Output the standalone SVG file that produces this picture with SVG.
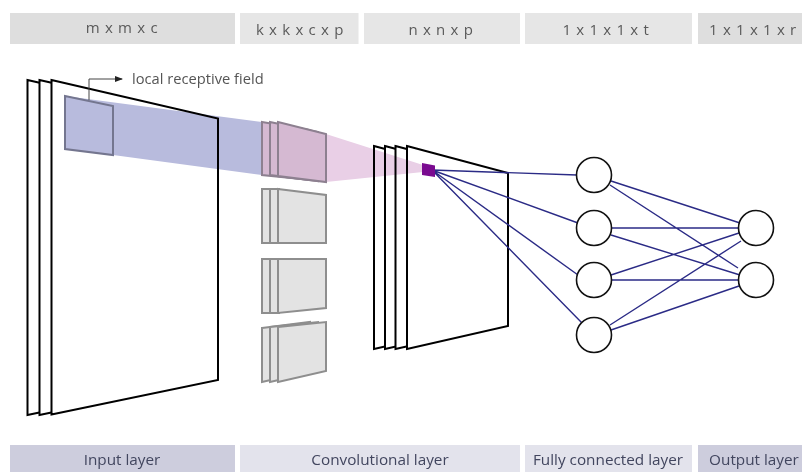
<svg xmlns="http://www.w3.org/2000/svg" width="802" height="472" viewBox="0 0 802 472">
<style>
.hd{font:15px "Open Sans","Liberation Sans",sans-serif;fill:#5a5a5a;text-anchor:middle;letter-spacing:.7px}
.ft{font:15.300px "Open Sans","Liberation Sans",sans-serif;fill:#42465f;text-anchor:middle}
.pl{fill:#fff;stroke:#000;stroke-width:2;stroke-linejoin:miter}
.fg{fill:#e3e3e3;stroke:#8e8e8e;stroke-width:2}
.fp{fill:#d5b9d2;stroke:#8d8090;stroke-width:2}
.n{fill:#fff;stroke:#111;stroke-width:1.6}
.c{stroke:#2b2b86;stroke-width:1.4;fill:none}
</style>
<defs><marker id="ah" markerWidth="8" markerHeight="6" refX="7" refY="3" orient="auto" markerUnits="userSpaceOnUse"><path d="M0 0L8 3L0 6Z" fill="#222"/></marker></defs>
<rect width="802" height="472" fill="#fff"/>
<g id="headers">
<rect x="10" y="13" width="225" height="31" fill="#dedede"/><text class="hd" x="122" y="33">m x m x c</text>
<rect x="240" y="13" width="118.500" height="31" fill="#e6e6e6"/><text class="hd" x="300" y="34.500">k x k x c x p</text>
<rect x="364" y="13" width="156" height="31" fill="#e6e6e6"/><text class="hd" x="441" y="34.500">n x n x p</text>
<rect x="525" y="13" width="167" height="31" fill="#e6e6e6"/><text class="hd" x="606" y="34.500">1 x 1 x 1 x t</text>
<rect x="698" y="13" width="104" height="31" fill="#dedede"/><text class="hd" x="753" y="34.500">1 x 1 x 1 x r</text>
</g>
<g id="footers">
<rect x="10" y="445" width="225" height="27" fill="#cdcddd"/><text class="ft" x="122" y="465">Input layer</text>
<rect x="240" y="445" width="118.500" height="27" fill="#e3e3ec"/>
<rect x="358" y="445" width="162" height="27" fill="#e3e3ec"/><text class="ft" x="380" y="465">Convolutional layer</text>
<rect x="525" y="445" width="167" height="27" fill="#e3e3ec"/><text class="ft" x="608" y="465">Fully connected layer</text>
<rect x="698" y="445" width="104" height="27" fill="#cdcddd"/><text class="ft" x="754" y="465">Output layer</text>
</g>
<g id="input-layer">
<path class="pl" d="M27.500 80L194 118V380L27.500 415Z"/>
<path class="pl" d="M39.500 80L206 118V380L39.500 415Z"/>
<path class="pl" d="M51.500 80L218 118.500V380L51.500 414.500Z"/>
</g>
<g id="conv-output-layer">
<path class="pl" d="M374 146L475 173V326L374 349Z"/>
<path class="pl" d="M385 146L486 173V326L385 349Z"/>
<path class="pl" d="M395.500 146L497 173V326L395.500 349Z"/>
<path class="pl" d="M407 146L508 173V326L407 349Z"/>
</g>
<g id="beam">
<path d="M65 96L262 122V175L113 155Z" fill="#b8bbdd" style="mix-blend-mode:multiply"/>
<path d="M326 134L423 165V172L326 182Z" fill="#e9cfe6" style="mix-blend-mode:multiply"/>
</g>
<g id="local-receptive-field">
<path d="M65 96L113 106V155L65 149Z" fill="#b8bbdd" stroke="#74768f" stroke-width="2"/>
<path d="M89 100V79H122" fill="none" stroke="#444" stroke-width="1" marker-end="url(#ah)"/>
<text x="132" y="84" font-family="'Open Sans','Liberation Sans',sans-serif" font-size="14.700" fill="#555">local receptive field</text>
</g>
<g id="filters-1">
<path class="fp" d="M262 122L310 130V180L262 175Z"/>
<path class="fp" d="M270 122L318 132V181L270 175Z"/>
<path class="fp" d="M278 122L326 134V182L278 176Z"/>
</g>
<g id="filters-2">
<path class="fg" d="M262 189H279V243H262Z"/>
<path class="fg" d="M270 189H279V243H270Z"/>
<path class="fg" d="M278 189L326 195V243H278Z"/>
</g>
<g id="filters-3">
<path class="fg" d="M262 259H279V313H262Z"/>
<path class="fg" d="M270 259H279V313H270Z"/>
<path class="fg" d="M278 259H326V308L278 313Z"/>
</g>
<g id="filters-4">
<path class="fg" d="M262 328L310 322V371L262 382Z"/>
<path class="fg" d="M270 327L318 322V371L270 382Z"/>
<path class="fg" d="M278 327L326 322V371L278 382Z"/>
</g>
<g id="connectors">
<path class="c" d="M432 170L577 175M432 170L578 223M432 170L578 275M432 170L582 323"/>
<path class="c" d="M611 181L740 223M610 185L738 268M612 228H739M611 235L740 275M611 275L739 233M612 280H739M610 325L741 241M611 330L739 286"/>
</g>
<g id="pixel-node"><path d="M422 163L435 165.500V177L422 175Z" fill="#7a0a90"/></g>
<g id="fc-1"><circle class="n" cx="594" cy="175" r="17.500"/></g>
<g id="fc-2"><circle class="n" cx="594" cy="228" r="17.500"/></g>
<g id="fc-3"><circle class="n" cx="594" cy="280" r="17.500"/></g>
<g id="fc-4"><circle class="n" cx="594" cy="335" r="17.500"/></g>
<g id="out-1"><circle class="n" cx="756" cy="228" r="17.500"/></g>
<g id="out-2"><circle class="n" cx="756" cy="280" r="17.500"/></g>
</svg>
